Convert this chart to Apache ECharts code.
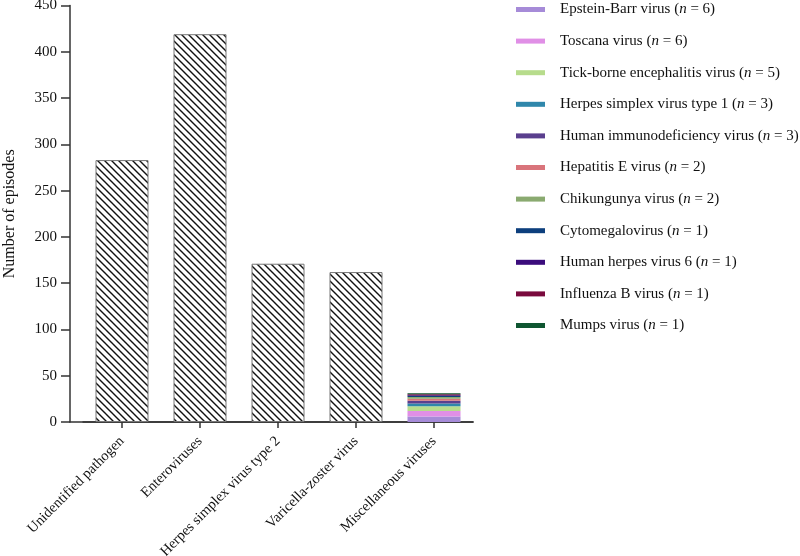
<!DOCTYPE html>
<html>
<head>
<meta charset="utf-8">
<script src="https://cdn.jsdelivr.net/npm/echarts@6/dist/echarts.min.js"></script>
<style>html,body{margin:0;padding:0;background:#fff}#c{width:800px;height:556px}</style>
</head>
<body>
<div id="c"></div>
<script>
const categories = ['Unidentified pathogen', 'Enteroviruses', 'Herpes simplex virus type 2', 'Varicella-zoster virus', 'Miscellaneous viruses'];
const mainValues = [283, 419, 171, 162];
const miscNames = ['Epstein-Barr virus', 'Toscana virus', 'Tick-borne encephalitis virus', 'Herpes simplex virus type 1', 'Human immunodeficiency virus', 'Hepatitis E virus', 'Chikungunya virus', 'Cytomegalovirus', 'Human herpes virus 6', 'Influenza B virus', 'Mumps virus'];
const miscValues = [6, 6, 5, 3, 3, 2, 2, 1, 1, 1, 1];
const miscColors = ['#a68bd8', '#e08fe6', '#b7dc8c', '#2f87ab', '#5a3f8e', '#d9747b', '#8aaa70', '#0d3f7d', '#3b0c7c', '#7a0a3d', '#0f5631'];
const yTicks = { min: 0, max: 450, interval: 50 };

const tile = document.createElement('canvas');
const s = 7;
tile.width = s; tile.height = s;
const ctx = tile.getContext('2d');
ctx.fillStyle = '#fff'; ctx.fillRect(0, 0, s, s);
ctx.strokeStyle = '#111'; ctx.lineWidth = 1.4;
ctx.beginPath();
ctx.moveTo(-1, -1); ctx.lineTo(s + 1, s + 1);
ctx.moveTo(-1, s - 1); ctx.lineTo(1, s + 1);
ctx.moveTo(s - 1, -1); ctx.lineTo(s + 1, 1);
ctx.stroke();

const font = '"Liberation Serif", "Times New Roman", serif';
const axisColor = '#333';
const chart = echarts.init(document.getElementById('c'), null, { renderer: 'canvas' });

const lastIdx = categories.length - 1;
const series = [{
  type: 'bar',
  name: 'main',
  xAxisIndex: 0, yAxisIndex: 0,
  data: mainValues.concat(['-']),
  barWidth: 53,
  barGap: '-100%',
  itemStyle: { color: { image: tile, repeat: 'repeat' }, borderColor: '#777', borderWidth: 1 },
  silent: true
}];
miscNames.forEach((n, i) => {
  const d = categories.map((c, k) => k === lastIdx ? miscValues[i] : '-');
  series.push({
    type: 'bar',
    name: n,
    xAxisIndex: 0, yAxisIndex: 0,
    stack: 'misc',
    data: d,
    barWidth: 53,
    barGap: '-100%',
    itemStyle: { color: miscColors[i] }
  });
});

chart.setOption({
  animation: false,
  textStyle: { fontFamily: font },
  grid: [
    { left: 83, top: 5.5, right: 327, bottom: 134, containLabel: false, outerBoundsMode: 'none' },
    { left: 70, top: 5.5, right: 327, bottom: 134, containLabel: false, outerBoundsMode: 'none' }
  ],
  xAxis: [{
    type: 'category',
    gridIndex: 0,
    data: categories,
    boundaryGap: true,
    axisLine: { show: true, lineStyle: { color: axisColor, width: 1.5 } },
    axisTick: { show: true, alignWithLabel: true, length: 6, lineStyle: { color: axisColor, width: 1.5 } },
    axisLabel: { rotate: 45, margin: 17, color: '#111', fontSize: 14.5, fontFamily: font, interval: 0 }
  }, {
    type: 'value',
    gridIndex: 1,
    min: 0, max: 1,
    splitLine: { show: false },
    axisLine: { show: true, onZero: false, lineStyle: { color: axisColor, width: 1.5 } },
    axisTick: { show: false },
    axisLabel: { show: false }
  }],
  yAxis: [{
    type: 'value',
    gridIndex: 0,
    min: yTicks.min, max: yTicks.max, interval: yTicks.interval,
    show: false
  }, {
    type: 'value',
    gridIndex: 1,
    min: yTicks.min, max: yTicks.max, interval: yTicks.interval,
    name: 'Number of episodes',
    nameLocation: 'middle',
    nameGap: 52,
    nameTextStyle: { fontSize: 16, color: '#111', fontFamily: font },
    splitLine: { show: false },
    axisLine: { show: true, onZero: false, lineStyle: { color: axisColor, width: 1.5 } },
    axisTick: { show: true, length: 9, lineStyle: { color: axisColor, width: 1.5 } },
    axisLabel: { color: '#111', fontSize: 15, fontFamily: font, margin: 13 }
  }],
  legend: {
    orient: 'vertical',
    left: 516,
    top: 2,
    padding: 0,
    itemWidth: 29,
    itemHeight: 5,
    itemGap: 16.6,
    icon: 'rect',
    data: miscNames,
    textStyle: {
      fontSize: 15, color: '#111', fontFamily: font, padding: [0, 0, 0, 10], lineHeight: 14,
      rich: {
        a: { fontSize: 15, fontFamily: font, color: '#111' },
        i: { fontSize: 15, fontFamily: font, color: '#111', fontStyle: 'italic' }
      }
    },
    formatter: name => {
      const k = miscNames.indexOf(name);
      return '{a|' + name + ' (}{i|n}{a| = ' + miscValues[k] + ')}';
    }
  },
  series: series
});
</script>
</body>
</html>
